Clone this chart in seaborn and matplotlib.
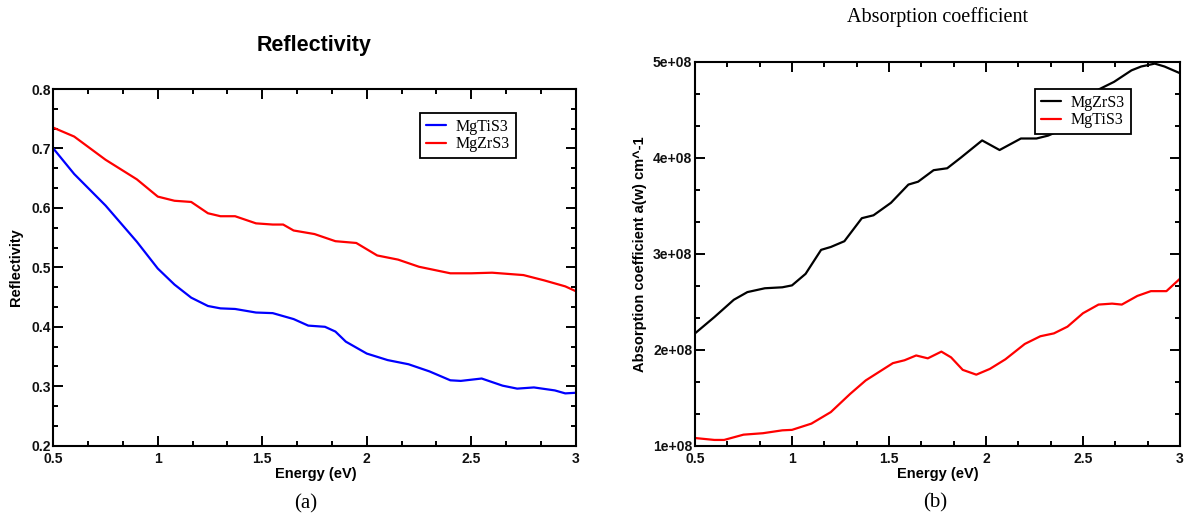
# plot.py
# Reflectivity and absorption coefficient of MgTiS3 / MgZrS3

import numpy as np
import pandas as pd
import matplotlib
matplotlib.use("Agg")
import matplotlib.pyplot as plt
from matplotlib.ticker import MultipleLocator, FuncFormatter
import seaborn as sns

# ── Data: (a) reflectivity ───────────────────────────────────────────────────
energy_r_ti = [0.5, 0.6, 0.75, 0.9, 1.0, 1.08, 1.16, 1.24, 1.3, 1.37, 1.47, 1.55,
               1.6, 1.65, 1.72, 1.8, 1.85, 1.9, 2.0, 2.1, 2.2, 2.3, 2.4, 2.45,
               2.55, 2.65, 2.72, 2.8, 2.9, 2.95, 3.0]
refl_ti = [0.70, 0.657, 0.604, 0.543, 0.498, 0.471, 0.449, 0.435, 0.431, 0.430,
           0.424, 0.423, 0.418, 0.413, 0.402, 0.400, 0.392, 0.375, 0.355, 0.344,
           0.337, 0.325, 0.310, 0.309, 0.313, 0.301, 0.296, 0.298, 0.293, 0.288,
           0.289]

energy_r_zr = [0.5, 0.6, 0.75, 0.9, 1.0, 1.08, 1.16, 1.24, 1.3, 1.37, 1.47, 1.55,
               1.6, 1.65, 1.75, 1.85, 1.95, 2.05, 2.15, 2.25, 2.4, 2.5, 2.6,
               2.75, 2.85, 2.95, 3.0]
refl_zr = [0.735, 0.72, 0.681, 0.648, 0.619, 0.612, 0.610, 0.591, 0.586, 0.586,
           0.574, 0.572, 0.572, 0.562, 0.556, 0.544, 0.541, 0.520, 0.513, 0.501,
           0.490, 0.490, 0.491, 0.487, 0.478, 0.468, 0.460]

# ── Data: (b) absorption coefficient (units of 1e8 cm^-1) ─────────────────────
energy_a_zr = [0.5, 0.6, 0.7, 0.77, 0.86, 0.95, 1.0, 1.07, 1.15, 1.2, 1.27, 1.36,
               1.42, 1.51, 1.6, 1.65, 1.73, 1.8, 1.87, 1.98, 2.07, 2.18, 2.26,
               2.32, 2.4, 2.45, 2.5, 2.58, 2.66, 2.75, 2.8, 2.87, 2.92, 3.0]
abs_zr = [2.17, 2.34, 2.52, 2.60, 2.64, 2.65, 2.67, 2.79, 3.04, 3.07, 3.13, 3.37,
          3.40, 3.53, 3.72, 3.75, 3.87, 3.89, 4.00, 4.18, 4.08, 4.20, 4.20,
          4.23, 4.30, 4.40, 4.52, 4.71, 4.79, 4.91, 4.95, 4.98, 4.95, 4.88]

energy_a_ti = [0.5, 0.6, 0.65, 0.75, 0.85, 0.95, 1.0, 1.1, 1.2, 1.3, 1.38, 1.45,
               1.52, 1.58, 1.64, 1.7, 1.77, 1.82, 1.88, 1.95, 2.02, 2.1, 2.2,
               2.28, 2.35, 2.42, 2.5, 2.58, 2.65, 2.7, 2.78, 2.85, 2.93, 3.0]
abs_ti = [1.08, 1.06, 1.06, 1.115, 1.13, 1.16, 1.165, 1.23, 1.35, 1.54, 1.68, 1.77,
          1.86, 1.89, 1.94, 1.91, 1.98, 1.92, 1.79, 1.74, 1.80, 1.90, 2.06,
          2.14, 2.17, 2.24, 2.38, 2.47, 2.48, 2.47, 2.56, 2.61, 2.61, 2.74]

refl = pd.concat([
    pd.DataFrame({"energy": energy_r_ti, "value": refl_ti, "material": "MgTiS3"}),
    pd.DataFrame({"energy": energy_r_zr, "value": refl_zr, "material": "MgZrS3"}),
])
absorp = pd.concat([
    pd.DataFrame({"energy": energy_a_zr, "value": np.array(abs_zr) * 1e8, "material": "MgZrS3"}),
    pd.DataFrame({"energy": energy_a_ti, "value": np.array(abs_ti) * 1e8, "material": "MgTiS3"}),
])

sns.set_theme(style="ticks")
plt.rcParams["font.family"] = ["Liberation Sans", "DejaVu Sans"]
plt.rcParams["text.color"] = "black"
plt.rcParams["xtick.color"] = "black"
plt.rcParams["ytick.color"] = "black"
plt.rcParams["legend.labelcolor"] = "black"

SANS = ["Liberation Sans", "DejaVu Sans"]
SERIF = ["Liberation Serif", "DejaVu Serif"]
W, H = 1192, 515

fig = plt.figure(figsize=(W / 100, H / 100), dpi=100)
ax1 = fig.add_axes([53.3 / W, 1 - 445.7 / H, (575.7 - 53.3) / W, (445.7 - 89) / H])
ax2 = fig.add_axes([695 / W, 1 - 445.7 / H, (1180 - 695) / W, (445.7 - 61.7) / H])

sns.lineplot(data=refl, x="energy", y="value", hue="material", ax=ax1,
             palette={"MgTiS3": "#0000ff", "MgZrS3": "#ff0000"},
             estimator=None, sort=False, linewidth=1.6)
sns.lineplot(data=absorp, x="energy", y="value", hue="material", ax=ax2,
             palette={"MgZrS3": "#000000", "MgTiS3": "#ff0000"},
             estimator=None, sort=False, linewidth=1.6)

ax1.set_xlim(0.5, 3)
ax1.set_ylim(0.2, 0.8)
ax1.yaxis.set_major_locator(MultipleLocator(0.1))
ax1.yaxis.set_minor_locator(MultipleLocator(0.1 / 3))

ax2.set_xlim(0.5, 3)
ax2.set_ylim(1e8, 5e8)
ax2.yaxis.set_major_locator(MultipleLocator(1e8))
ax2.yaxis.set_minor_locator(MultipleLocator(1e8 / 3))
ax2.yaxis.set_major_formatter(FuncFormatter(lambda v, p: f"{v:.0e}"))

for ax in (ax1, ax2):
    ax.xaxis.set_major_locator(MultipleLocator(0.5))
    ax.xaxis.set_minor_locator(MultipleLocator(0.5 / 3))
    ax.xaxis.set_major_formatter(FuncFormatter(lambda v, p: f"{v:g}"))
    ax.tick_params(which="both", direction="in", top=True, right=True,
                   width=1.4, color="black")
    ax.tick_params(which="major", length=7)
    ax.tick_params(which="minor", length=3.5)
    ax.tick_params(axis="x", pad=4.5)
    ax.tick_params(axis="y", pad=2)
    for lab in ax.get_xticklabels() + ax.get_yticklabels():
        lab.set_fontweight("bold")
        lab.set_fontsize(10)
        lab.set_color("#111111")
    for sp in ax.spines.values():
        sp.set_linewidth(1.5)
        sp.set_color("black")
    ax.set_xlabel("")
    ax.set_ylabel("")
    ax.get_legend().remove()

# y tick labels sit slightly above their tick, as in the original
for lab in ax1.get_yticklabels() + ax2.get_yticklabels():
    lab.set_verticalalignment("center_baseline")

# legends
for ax, anchor, order in ((ax1, (420 / W, 1 - 113.3 / H), ["MgTiS3", "MgZrS3"]),
                          (ax2, (1035 / W, 1 - 89.3 / H), ["MgZrS3", "MgTiS3"])):
    handles, labels = ax.get_legend_handles_labels()
    hl = dict(zip(labels, handles))
    leg = ax.legend([hl[k] for k in order], order, loc="upper left",
                    bbox_to_anchor=anchor, bbox_transform=fig.transFigure,
                    borderaxespad=0, frameon=True, fancybox=False,
                    framealpha=1, edgecolor="black", borderpad=0.35,
                    handlelength=1.25, handletextpad=0.65, labelspacing=0.1,
                    prop={"family": SERIF, "size": 11.5})
    leg.get_frame().set_linewidth(1.3)

# titles and labels
fig.text(314.5 / W, 1 - 46 / H, "Reflectivity", ha="center", va="center",
         fontsize=15.5, fontweight="bold", family=SANS)
fig.text(937.5 / W, 1 - 17.5 / H, "Absorption coefficient", ha="center",
         va="center", fontsize=14.5, family=SERIF)
fig.text(16 / W, 1 - 267 / H, "Reflectivity", rotation=90, ha="center",
         va="center", fontsize=10.5, fontweight="bold", family=SANS)
fig.text(640 / W, 1 - 253.7 / H, "Absorption coefficient a(w) cm^-1", rotation=90,
         ha="center", va="center", fontsize=10.5, fontweight="bold", family=SANS)
fig.text(316 / W, 1 - 474 / H, "Energy (eV)", ha="center", va="center",
         fontsize=10.5, fontweight="bold", family=SANS)
fig.text(937.5 / W, 1 - 474 / H, "Energy (eV)", ha="center", va="center",
         fontsize=10.5, fontweight="bold", family=SANS)
fig.text(306 / W, 1 - 504 / H, "(a)", ha="center", va="center",
         fontsize=15, family=SERIF)
fig.text(935 / W, 1 - 503 / H, "(b)", ha="center", va="center",
         fontsize=15, family=SERIF)

fig.savefig("out.png", dpi=100)
print("Saved: out.png")
